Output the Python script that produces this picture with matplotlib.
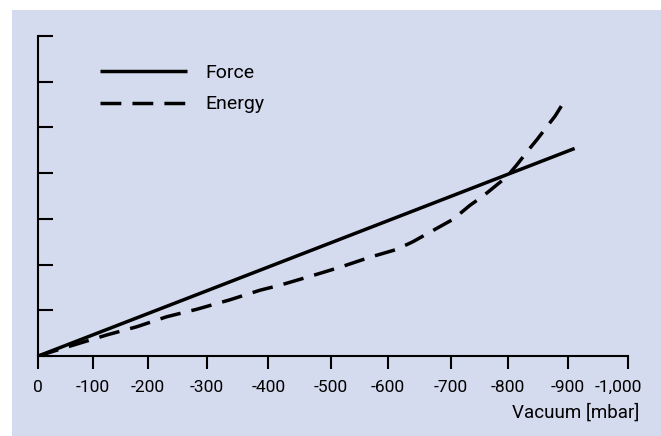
import matplotlib
matplotlib.use("Agg")
import matplotlib.pyplot as plt
import matplotlib.transforms as mtransforms
from matplotlib.patches import Rectangle

plt.rcParams['font.family'] = ['Roboto', 'DejaVu Sans']

# vacuum in mbar (negative)
force_x = [0, -909]
force_y = [0.0, 4.54]

energy_x = [0, -42, -65, -116, -167, -218, -268, -325, -376, -410, -460, -511,
            -562, -607, -635, -664, -703, -732, -754, -794, -811, -831, -845,
            -864, -876, -893]
energy_y = [0.0, 0.17, 0.26, 0.46, 0.64, 0.86, 1.02, 1.23, 1.44, 1.55, 1.74, 1.94,
            2.16, 2.33, 2.50, 2.71, 2.99, 3.30, 3.50, 3.92, 4.18, 4.51, 4.73,
            5.05, 5.25, 5.60]

# tick marks as drawn in the original (spacing is not quite even)
xtick_pos = [0, -92, -186, -286, -390, -496, -593, -699, -796, -897, -1000]
xtick_labels = ["0", "-100", "-200", "-300", "-400", "-500", "-600", "-700",
                "-800", "-900", "-1,000"]
ytick_pos = [0, 1, 2, 3, 4, 5, 6, 7]

W, H = 661, 436
fig = plt.figure(figsize=(W / 100, H / 100), dpi=100)
fig.patches.append(Rectangle((12 / W, 0), 1 - 12 / W, 1 - 10 / H,
                             transform=fig.transFigure, facecolor="#d5dbee",
                             edgecolor="none", zorder=-10))

ax = fig.add_axes([38.3 / W, 80 / H, 590 / W, 320 / H])
ax.set_facecolor("none")

lw = 2.5
ax.plot(force_x, force_y, color="black", lw=lw, solid_capstyle="butt", label="Force")
ax.plot(energy_x, energy_y, color="black", lw=lw, linestyle=(0, (6.0, 3.2)),
        label="Energy")

ax.set_xlim(0, -1000)
ax.set_ylim(0, 7)

for s in ("top", "right"):
    ax.spines[s].set_visible(False)
for s in ("left", "bottom"):
    ax.spines[s].set_linewidth(1.5)

ax.set_xticks(xtick_pos)
ax.set_xticklabels(xtick_labels, fontsize=12.5)
ax.set_yticks(ytick_pos)
ax.set_yticklabels([])
ax.tick_params(axis="x", direction="out", length=9.5, width=1.5, pad=8)
ax.tick_params(axis="y", direction="in", length=10.8, width=1.5)

# nudge the last label left like in the original
last = ax.get_xticklabels()[-1]
last.set_transform(last.get_transform() +
                   mtransforms.ScaledTranslation(-10 / 100, 0, fig.dpi_scale_trans))

ax.set_xlabel("Vacuum [mbar]", fontsize=13.5, ha="right", va="center")
ax.xaxis.set_label_coords((639 - 38.3) / 590, -(413 - 356) / 320)

ax.legend(loc="upper left", bbox_to_anchor=(0.078, 0.962), frameon=False,
          fontsize=14, handlelength=4.5, handletextpad=0.95, labelspacing=0.7,
          borderpad=0.3)

fig.savefig("out.png", dpi=100)
